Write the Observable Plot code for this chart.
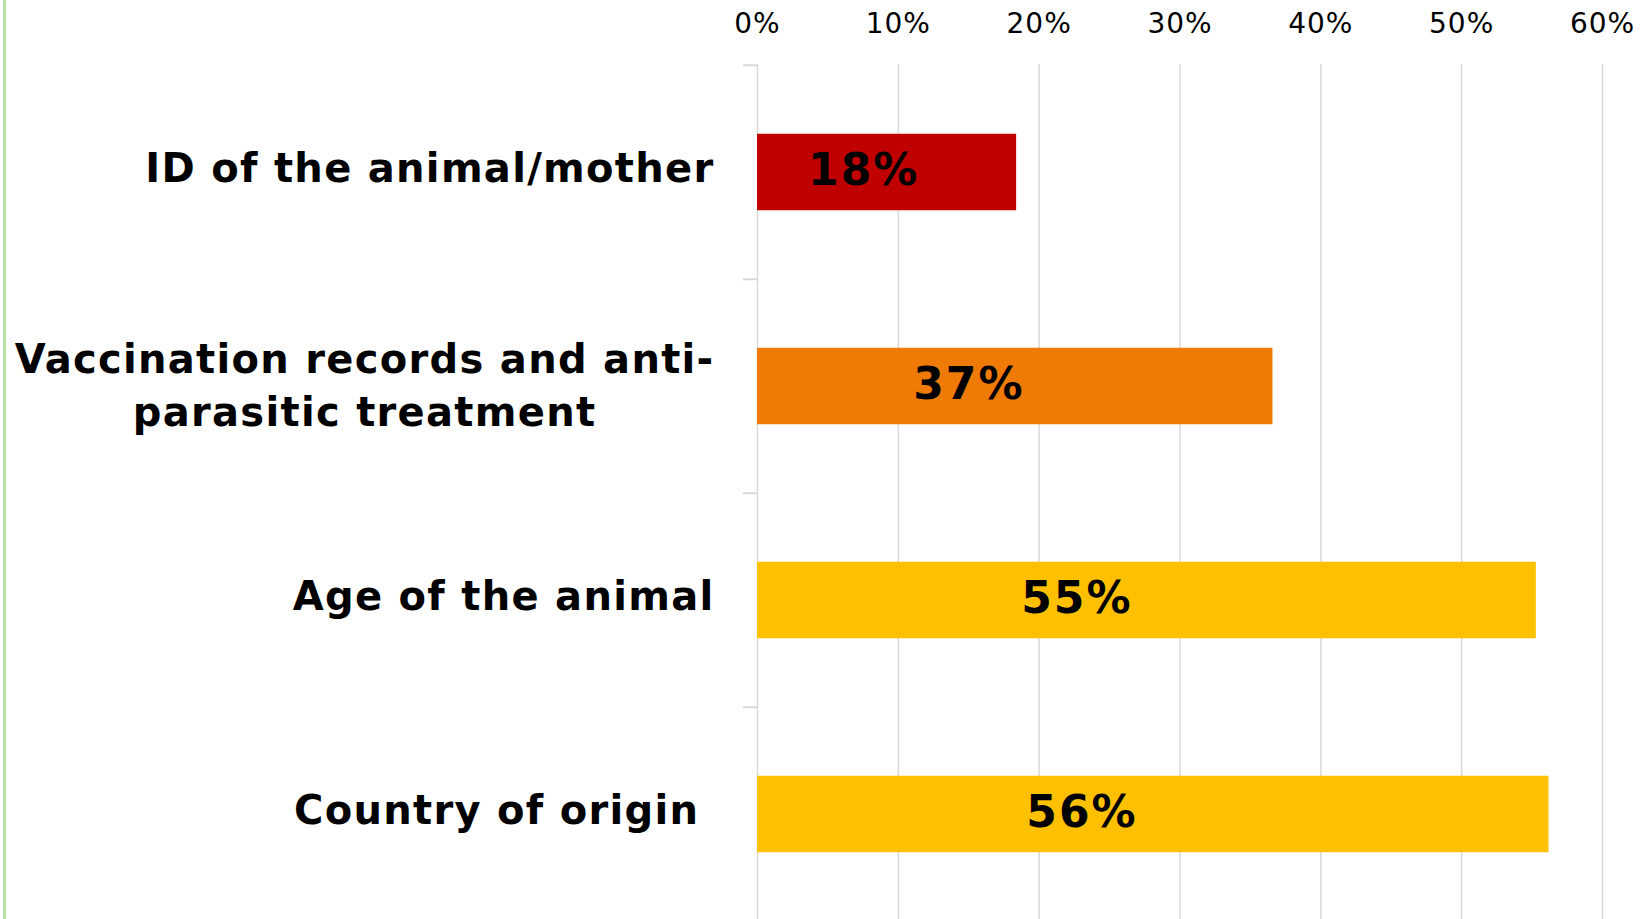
<!DOCTYPE html>
<html>
<head>
<meta charset="utf-8">
<script src="https://cdn.jsdelivr.net/npm/d3@7"></script>
<script src="https://cdn.jsdelivr.net/npm/@observablehq/plot@0.6"></script>
<style>
  html, body { margin: 0; padding: 0; background: #fff; }
  #wrap { position: relative; width: 1647px; height: 919px; overflow: hidden; }
  #wrap::before { content: ""; position: absolute; left: 3px; top: 0; width: 3px; height: 919px; background: #b9e0a9; }
  svg { display: block; }
  [aria-label="category-labels"], [aria-label="category-labels"] tspan { letter-spacing: 1.3px; }
  [aria-label="value-labels"] { letter-spacing: 2px; }
  g[aria-label="x-axis tick label"] text { letter-spacing: 1px; }
</style>
</head>
<body>
<div id="wrap"></div>
<script>
const categories = [
  "ID of the animal/mother",
  "Vaccination records and anti-\nparasitic treatment",
  "Age of the animal",
  "Country of origin "
];
const values = [0.184, 0.366, 0.553, 0.562];
const colors = ["#C00000", "#F07A06", "#FFC000", "#FFC000"];
const xTicks = [0, 0.1, 0.2, 0.3, 0.4, 0.5, 0.6];

const data = categories.map((c, i) => ({category: c, value: values[i], color: colors[i]}));

const W = 1647, H = 919;
const mTop = 64, mLeft = 757, mRight = 45, yEnd = 922;
const step = (yEnd - mTop) / categories.length;
const barH = 77;
const inset = (step - barH) / 2;

const labelSize = 40, labelSpacing = 1.3;
const ctx = document.createElement("canvas").getContext("2d");
ctx.font = `bold ${labelSize}px 'DejaVu Sans'`;
const gap = 43;
// right-align single-line labels; centre multi-line labels on their widest line
const labelData = data.map(d => {
  const lines = d.category.split("\n");
  const w = Math.max(...lines.map(l => ctx.measureText(l).width + labelSpacing * l.length));
  return {...d, multi: lines.length > 1, half: w / 2};
});

const chart = Plot.plot({
  width: W,
  height: H,
  marginTop: mTop,
  marginLeft: mLeft,
  marginRight: mRight,
  marginBottom: 0,
  style: {fontFamily: "'DejaVu Sans', Verdana, sans-serif", background: "#fff"},
  x: {domain: [0, 0.6], range: [mLeft, W - mRight]},
  y: {domain: categories, range: [mTop, yEnd], padding: 0},
  marks: [
    Plot.ruleX(xTicks, {stroke: "#d9d9d9", strokeWidth: 1.5, strokeOpacity: 1}),
    Plot.axisX({anchor: "top", ticks: xTicks, tickFormat: d3.format(".0%"), tickSize: 0, tickPadding: 32, fontSize: 28, fill: "#000", label: null}),
    Plot.axisY({anchor: "left", tickSize: 14, tickFormat: () => "", stroke: "#d9d9d9", strokeWidth: 2, strokeOpacity: 1, dy: -step / 2, label: null}),
    Plot.barX(data, {y: "category", x: "value", fill: "color", insetTop: inset, insetBottom: inset}),
    Plot.text(data, {ariaLabel: () => "value-labels", y: "category", x: d => d.value * 0.41, text: d => d3.format(".0%")(d.value), fontSize: 44, fontWeight: "bold", fill: "#000", dy: -2}),
    Plot.text(labelData.filter(d => !d.multi), {ariaLabel: () => "category-labels", y: "category", frameAnchor: "left", dx: -gap, dy: -3, textAnchor: "end", text: "category", fontSize: labelSize, fontWeight: "bold", fill: "#000"}),
    Plot.text(labelData.filter(d => d.multi), {ariaLabel: () => "category-labels", y: "category", frameAnchor: "left", dx: -gap - labelData.find(d => d.multi).half, textAnchor: "middle", text: "category", fontSize: labelSize, fontWeight: "bold", fill: "#000", lineHeight: 1.33, dy: -4})
  ]
});
document.getElementById("wrap").appendChild(chart);
</script>
</body>
</html>
